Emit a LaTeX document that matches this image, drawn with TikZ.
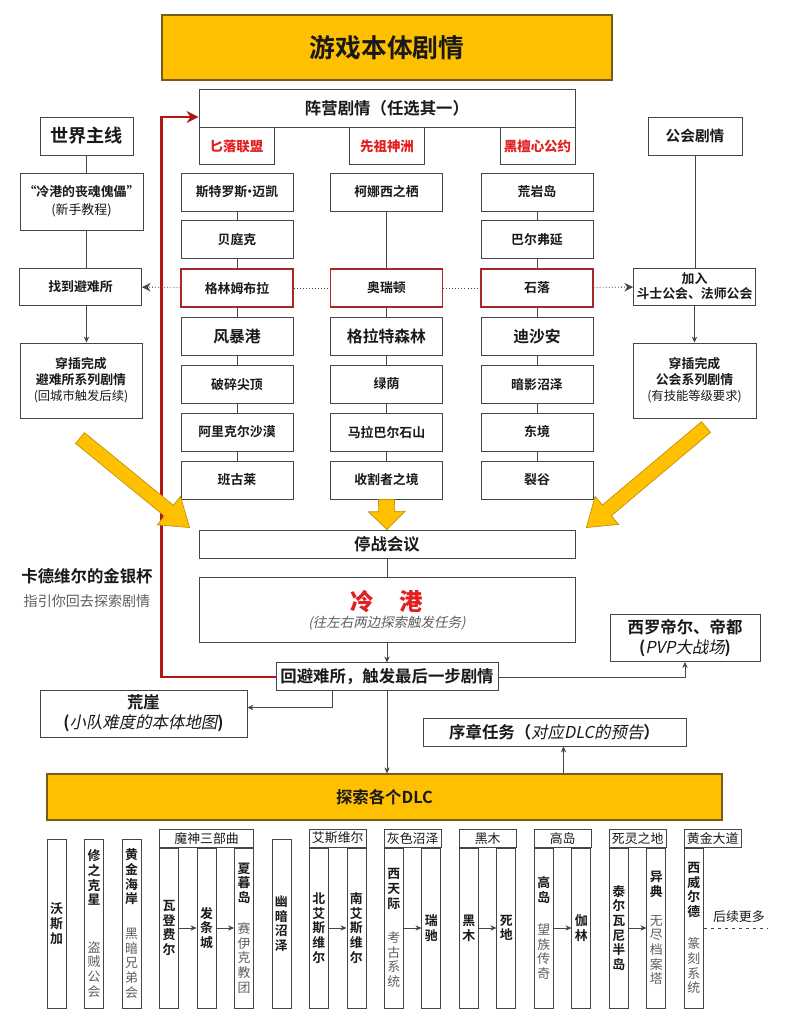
\documentclass[tikz,border=0pt]{standalone}
\usepackage{fontspec}
\setmainfont{Noto Sans CJK SC}[BoldFont={Noto Sans CJK SC Bold},AutoFakeSlant=0.2]
\XeTeXlinebreaklocale "zh"
\XeTeXlinebreakskip=0pt plus 1pt
\usetikzlibrary{arrows.meta,positioning,calc}
\definecolor{gold}{RGB}{255,192,0}
\definecolor{golddark}{RGB}{120,90,25}
\definecolor{golddeep}{RGB}{196,146,10}
\definecolor{boxline}{RGB}{70,70,70}
\definecolor{inkblack}{RGB}{25,25,25}
\definecolor{redtext}{RGB}{226,32,32}
\definecolor{redframe}{RGB}{168,40,40}
\definecolor{backred}{RGB}{178,22,22}
\definecolor{graytext}{RGB}{95,95,95}
\newcommand\boldsz[2]{\bfseries\fontsize{#1}{#2}\selectfont}
\newcommand\dlcsub[2][15pt]{\par\vspace{#1}{\mdseries\color{graytext}#2\par}}
\newcommand\fatarrow[5]{%
  \coordinate (hb) at ($(#2)!#5!(#1)$);
  \draw[fat] ($(#1)!#3!90:(#2)$) -- ($(hb)!#3!90:(#2)$) -- ($(hb)!#4!90:(#2)$) -- (#2)
    -- ($(hb)!#4!-90:(#2)$) -- ($(hb)!#3!-90:(#2)$) -- ($(#1)!#3!-90:(#2)$) -- cycle;}
\tikzset{
  box/.style={draw=boxline,line width=0.8pt,fill=white,text=inkblack,align=center,inner sep=1pt,font=\boldsz{11}{13.6}},
  cell/.style={box,minimum width=3.36cm,minimum height=1.14cm},
  hotcell/.style={cell,draw=redframe,line width=1.1pt},
  bigcell/.style={cell,font=\boldsz{13.5}{16}},
  faction/.style={box,minimum width=2.25cm,minimum height=1.11cm,text=redtext,font=\boldsz{11.5}{14}\itshape},
  banner/.style={box,fill=gold,draw=golddark,line width=1pt},
  side/.style={box,minimum width=3.66cm},
  link/.style={draw=boxline,line width=0.6pt},
  arr/.style={link,-{Stealth[length=1.8mm,width=1.6mm]}},
  hint/.style={link,dotted,line width=0.9pt},
  backline/.style={draw=backred,line width=2.2pt,-{Stealth[length=3.6mm,width=3.6mm]}},
  fat/.style={fill=gold,draw=golddeep,line width=0.6pt},
  vcol/.style={draw=boxline,line width=0.7pt,fill=white,text=inkblack,minimum width=0.57cm,text width=12pt,align=center,inner sep=0pt,font=\boldsz{11}{12.5}},
  solo/.style={vcol,minimum height=5.07cm},
  sub/.style={vcol,minimum height=4.8cm},
  grouphead/.style={draw=boxline,line width=0.7pt,fill=white,text=inkblack,minimum height=0.54cm,inner sep=0pt,font=\fontsize{11}{12}\selectfont}
}

\begin{document}
\begin{tikzpicture}[x=0.03cm,y=-0.03cm,node distance=0.53cm]
  \fill[white] (0,0) rectangle (785,1024);
  \useasboundingbox (0,0) rectangle (785,1024);

  % main story
  \node[banner,minimum width=13.5cm,minimum height=1.95cm,font=\boldsz{22}{26}] (title) at (387,47.5) {游戏本体剧情};
  \node[box,minimum width=11.28cm,minimum height=1.14cm,font=\boldsz{14}{17}] (camp) at (387,108) {阵营剧情（任选其一）};
  \node[faction,anchor=north west] (dagger) at (camp.south west) {匕落联盟};
  \node[faction,anchor=north] (aldmeri) at (camp.south) {先祖神洲};
  \node[faction,anchor=north east] (ebon) at (camp.south east) {黑檀心公约};

  % faction zones
  \node[cell] (a1) at (237,192) {斯特罗斯\kern-0.3em•\kern-0.3em迈凯};
  \node[cell,below=0.27cm of a1] (a2) {贝庭克};
  \node[hotcell,below=0.27cm of a2] (a3) {格林姆布拉};
  \node[bigcell,below=0.27cm of a3] (a4) {风暴港};
  \node[cell,below=0.27cm of a4] (a5) {破碎尖顶};
  \node[cell,below=0.27cm of a5] (a6) {阿里克尔沙漠};
  \node[cell,below=0.27cm of a6] (a7) {班古莱};

  \node[cell] (b1) at (386.5,192) {柯娜西之栖};
  \node[hotcell] (b3) at (b1 |- a3) {奥瑞顿};
  \node[bigcell,below=0.27cm of b3] (b4) {格拉特森林};
  \node[cell,below=0.27cm of b4] (b5) {绿荫};
  \node[cell,below=0.27cm of b5] (b6) {马拉巴尔石山};
  \node[cell,below=0.27cm of b6] (b7) {收割者之境};

  \node[cell] (c1) at (537,192) {荒岩岛};
  \node[cell,below=0.27cm of c1] (c2) {巴尔弗延};
  \node[hotcell,below=0.27cm of c2] (c3) {石落};
  \node[bigcell,below=0.27cm of c3] (c4) {迪沙安};
  \node[cell,below=0.27cm of c4] (c5) {暗影沼泽};
  \node[cell,below=0.27cm of c5] (c6) {东境};
  \node[cell,below=0.27cm of c6] (c7) {裂谷};

  \draw[link] (a1)--(a2) (a2)--(a3) (a3)--(a4) (a4)--(a5) (a5)--(a6) (a6)--(a7);
  \draw[link] (b1)--(b3) (b3)--(b4) (b4)--(b5) (b5)--(b6) (b6)--(b7);
  \draw[link] (c1)--(c2) (c2)--(c3) (c3)--(c4) (c4)--(c5) (c5)--(c6) (c6)--(c7);

  % side stories
  \node[box,minimum width=2.79cm,minimum height=1.14cm,font=\boldsz{15.5}{18}] (world) at (86.5,136) {世界主线};
  \node[side,minimum width=3.69cm,minimum height=1.71cm,font=\boldsz{11}{15}] (intro) at (81.5,201.5) {“冷港的丧魂傀儡”\\{\mdseries(新手教程)}};
  \node[side,minimum height=1.11cm] (shelter) at (80.5,286.5) {找到避难所};
  \node[side,minimum height=2.25cm] (sdone) at (81,380.5) {穿插完成\\避难所系列剧情\\{\mdseries\fontsize{10.5}{13.6}\selectfont(回城市触发后续)}};

  \node[box,minimum width=2.82cm,minimum height=1.14cm,font=\boldsz{12.5}{15}] (guild) at (695,136) {公会剧情};
  \node[side,minimum height=1.11cm,font=\boldsz{11}{12.8}] (join) at (694.5,286.5) {加入\\斗士公会、法师公会};
  \node[side,minimum width=3.69cm,minimum height=2.25cm] (gdone) at (694.5,380.5) {穿插完成\\公会系列剧情\\{\mdseries\fontsize{10.5}{13.6}\selectfont(有技能等级要求)}};

  \draw[link] (world) -- (world |- intro.north);
  \draw[link] (world |- intro.south) -- (world |- shelter.north);
  \draw[arr] (world |- shelter.south) -- (world |- sdone.north);
  \draw[link] (guild) -- (guild |- join.north);
  \draw[arr] (join) -- (gdone);

  \draw[hint,-{Stealth[length=2.6mm,width=2.6mm]}] (a3) -- (shelter);
  \draw[hint] (a3) -- (b3);
  \draw[hint] (b3) -- (c3);
  \draw[hint,-{Stealth[length=2.6mm,width=2.6mm]}] (c3) -- (join);

  % truce and cold harbour
  \node[box,minimum width=11.28cm,minimum height=0.84cm,font=\boldsz{14}{17}] (truce) at (387,544) {停战会议};
  \node[box,minimum width=11.28cm,minimum height=1.95cm,below=0.57cm of truce] (harbor) {{\color{redtext}\boldsz{20}{24}\itshape 冷\hspace{1.1em}港}\\[1pt]{\color{graytext}\mdseries\itshape\fontsize{11.5}{14}\selectfont(往左右两边探索触发任务)}};
  \node[box,minimum width=6.66cm,minimum height=0.84cm,font=\boldsz{14}{17},below=0.57cm of harbor] (back) {回避难所，触发最后一步剧情};

  \node[align=center,text=inkblack,font=\boldsz{14}{20}] (cup) at (87,588) {卡德维尔的金银杯\\{\mdseries\color{graytext}\fontsize{12}{14}\selectfont 指引你回去探索剧情}};
  \node[box,minimum width=4.5cm,minimum height=1.41cm,font=\boldsz{14}{17}] (pvp) at (685,638) {西罗帝尔、帝都\\(\textit{\mdseries PVP大战场})};
  \node[box,minimum width=6.21cm,minimum height=1.41cm,font=\boldsz{14}{17}] (cliff) at (143.5,713.5) {荒崖\\(\textit{\mdseries 小队难度的本体地图})};
  \node[box,minimum width=7.89cm,minimum height=0.84cm,font=\boldsz{14}{17}] (prologue) at (554.5,732) {序章任务（\textit{\mdseries 对应DLC的预告}）};
  \node[banner,minimum width=20.25cm,minimum height=1.38cm,font=\boldsz{14}{17}] (dlc) at (384.5,797) {探索各个DLC};

  \draw[link] (truce) -- (truce |- harbor.north);
  \draw[arr] (harbor.south -| back) -- (back);
  \coordinate (campin) at ([yshift=-0.27cm]camp.west);
  \draw[backline] (back.west) -| ([xshift=-1.11cm]campin) -- (campin);
  \draw[arr] (back.east) -| (pvp.south);
  \draw[arr] ([xshift=-1.65cm]back.south) |- ([yshift=0.18cm]cliff.east);
  \draw[arr] (back.south) -- (back.south |- dlc.north);
  \draw[arr] ([xshift=0.27cm]prologue.south |- dlc.north) -- ([xshift=0.27cm]prologue.south);

  % big yellow arrows
  \coordinate (ltail) at (80,438);
  \coordinate (ltip) at ([shift={(-0.27cm,0.06cm)}]truce.north west);
  \fatarrow{ltail}{ltip}{0.21cm}{0.55cm}{0.8cm}
  \coordinate (rtail) at (706,427);
  \coordinate (rtip) at ([shift={(0.33cm,0.06cm)}]truce.north east);
  \fatarrow{rtail}{rtip}{0.21cm}{0.55cm}{0.8cm}
  \fatarrow{b7.south}{truce.north}{0.24cm}{0.55cm}{0.54cm}

  % DLC columns
  \node[solo] (wrg) at (56.5,923.5) {沃斯加};
  \node[solo,right=of wrg] (hew) {修之克星\dlcsub[28pt]{盗贼公会}};
  \node[solo,right=of hew] (gcoast) {黄金海岸\dlcsub[17pt]{黑暗兄弟会}};

  \node[sub,anchor=south west] (vvd) at ([xshift=0.53cm]gcoast.south east) {瓦登费尔};
  \node[sub,right=of vvd] (clk) {发条城};
  \node[sub,right=of clk] (sum) {夏暮岛\dlcsub[14pt]{赛伊克教团}};
  \node[grouphead,minimum width=2.83cm,anchor=south west] (gdaed) at (vvd.north west) {魔神三部曲};

  \node[solo,anchor=south west] (murk) at ([xshift=0.53cm]sum.south east) {幽暗沼泽};

  \node[sub,anchor=south west] (nels) at ([xshift=0.53cm]murk.south east) {北艾斯维尔};
  \node[sub,right=of nels] (sels) {南艾斯维尔};
  \node[grouphead,minimum width=1.70cm,anchor=south west] (gels) at (nels.north west) {艾斯维尔};

  \node[sub,anchor=south west] (wsky) at ([xshift=0.53cm]sels.south east) {西天际\dlcsub[17pt]{考古系统}};
  \node[sub,right=of wsky] (reach) {瑞驰};
  \node[grouphead,minimum width=1.70cm,anchor=south west] (gmarch) at (wsky.north west) {灰色沼泽};

  \node[sub,anchor=south west] (bwood) at ([xshift=0.53cm]reach.south east) {黑木};
  \node[sub,right=of bwood] (dland) {死地};
  \node[grouphead,minimum width=1.70cm,anchor=south west] (gbw) at (bwood.north west) {黑木};

  \node[sub,anchor=south west] (hisle) at ([xshift=0.53cm]dland.south east) {高岛\dlcsub{望族传奇}};
  \node[sub,right=of hisle] (galen) {伽林};
  \node[grouphead,minimum width=1.70cm,anchor=south west] (ghi) at (hisle.north west) {高岛};

  \node[sub,anchor=south west] (telv) at ([xshift=0.53cm]galen.south east) {泰尔瓦尼半岛};
  \node[sub,right=of telv] (apoc) {异典\dlcsub[12pt]{无尽档案塔}};
  \node[grouphead,minimum width=1.70cm,anchor=south west] (gdead) at (telv.north west) {死灵之地};

  \node[sub,anchor=south west] (wwl) at ([xshift=0.53cm]apoc.south east) {西威尔德\dlcsub{篆刻系统}};
  \node[grouphead,minimum width=1.70cm,anchor=south west] (ggold) at (wwl.north west) {黄金大道};

  \draw[arr] (vvd) -- (clk);
  \draw[arr] (clk) -- (sum);
  \draw[arr] (nels) -- (sels);
  \draw[arr] (wsky) -- (reach);
  \draw[arr] (bwood) -- (dland);
  \draw[arr] (hisle) -- (galen);
  \draw[arr] (telv) -- (apoc);
  \draw[link,dashed] (wwl.east) -- ++(1.92cm,0)
    node[pos=0.55,above=1pt,text=inkblack,font=\fontsize{11}{12}\selectfont] (more) {后续更多};
\end{tikzpicture}
\end{document}
